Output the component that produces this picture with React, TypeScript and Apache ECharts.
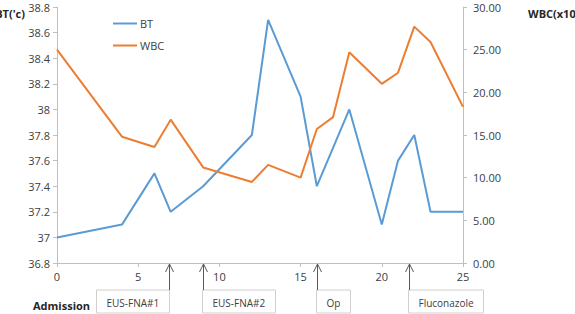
import React, { useEffect, useRef } from "react";
import * as echarts from "echarts";

// Body temperature (°C) by hospital day
const btDays = [0, 4, 6, 7, 9, 12, 13, 15, 16, 18, 20, 21, 22, 23, 25];
const btValues = [37.0, 37.1, 37.5, 37.2, 37.4, 37.8, 38.7, 38.1, 37.4, 38.0, 37.1, 37.6, 37.8, 37.2, 37.2];

// White blood cell count by hospital day
const wbcDays = [0, 4, 6, 7, 9, 12, 13, 15, 16, 17, 18, 20, 21, 22, 23, 25];
const wbcValues = [25.0, 14.8, 13.6, 16.8, 11.2, 9.5, 11.5, 10.0, 15.7, 17.1, 24.7, 21.0, 22.3, 27.7, 25.9, 18.3];

// Clinical events marked under the day axis
const eventDays = [6.9, 9, 16, 21.7];
const eventLabels = ["EUS-FNA#1", "EUS-FNA#2", "Op", "Fluconazole"];
const eventBoxOnLeft = [true, false, false, false];

const FONT = "'Open Sans', 'Noto Sans', sans-serif";
const BLUE = "#5B9BD5";
const ORANGE = "#ED7D31";
const AXIS = "#BFBFBF";
const TEXT = "#404040";

function measure(text: string, size: number): number {
  const c = document.createElement("canvas").getContext("2d");
  if (!c) return text.length * size * 0.55;
  c.font = `${size}px 'Open Sans'`;
  return c.measureText(text).width;
}

export default function App() {
  const ref = useRef<HTMLDivElement>(null);

  useEffect(() => {
    if (!ref.current) return;
    const chart = echarts.init(ref.current, undefined, { renderer: "svg" });

    chart.setOption({
      animation: false,
      textStyle: { fontFamily: FONT },
      grid: { left: 57, right: 112, top: 7, bottom: 51 },
      legend: {
        orient: "vertical",
        left: 108,
        top: 13,
        itemGap: 11,
        itemWidth: 24,
        itemHeight: 11,
        textStyle: { fontSize: 11, color: TEXT, fontFamily: FONT, padding: [0, 0, 0, -2] },
        data: [
          { name: "BT", icon: "path://M0,5 L24,5 L24,7 L0,7 Z" },
          { name: "WBC", icon: "path://M0,5 L24,5 L24,7 L0,7 Z" },
        ],
      },
      xAxis: {
        type: "value",
        min: 0,
        max: 25,
        interval: 5,
        splitLine: { show: false },
        axisLine: { lineStyle: { color: AXIS } },
        axisTick: { show: true, length: 4, lineStyle: { color: AXIS } },
        axisLabel: { fontSize: 11, color: TEXT, margin: 8 },
      },
      yAxis: [
        {
          type: "value",
          min: 36.8,
          max: 38.8,
          interval: 0.2,
          position: "left",
          splitLine: { show: false },
          axisLine: { show: true, lineStyle: { color: AXIS } },
          axisTick: { show: true, length: 4, lineStyle: { color: AXIS } },
          axisLabel: {
            fontSize: 11,
            color: TEXT,
            margin: 7,
            formatter: (v: number) => String(Math.round(v * 10) / 10),
          },
        },
        {
          type: "value",
          min: 0,
          max: 30,
          interval: 5,
          position: "right",
          splitLine: { show: false },
          axisLine: { show: true, lineStyle: { color: AXIS } },
          axisTick: { show: true, length: 4, lineStyle: { color: AXIS } },
          axisLabel: {
            fontSize: 11,
            color: TEXT,
            margin: 10,
            formatter: (v: number) => v.toFixed(2),
          },
        },
      ],
      series: [
        {
          name: "BT",
          type: "line",
          yAxisIndex: 0,
          data: btDays.map((d, i) => [d, btValues[i]]),
          showSymbol: false,
          color: BLUE,
          lineStyle: { width: 2, color: BLUE },
        },
        {
          name: "WBC",
          type: "line",
          yAxisIndex: 1,
          data: wbcDays.map((d, i) => [d, wbcValues[i]]),
          showSymbol: false,
          color: ORANGE,
          lineStyle: { width: 2, color: ORANGE },
        },
      ],
    });

    // Annotations placed from the axes' own scales
    const y0 = chart.convertToPixel({ yAxisIndex: 0 }, 36.8) as number;
    const graphics: any[] = [
      {
        type: "text",
        x: 25,
        y: 13,
        style: {
          text: "BT('c)",
          align: "right",
          verticalAlign: "middle",
          font: `bold 11px ${FONT}`,
          fill: "#262626",
        },
      },
      {
        type: "text",
        x: 528,
        y: 13,
        style: {
          text: "WBC(x10³",
          align: "left",
          verticalAlign: "middle",
          font: `bold 11px ${FONT}`,
          fill: "#262626",
        },
      },
      {
        type: "text",
        x: 33,
        y: y0 + 42,
        style: {
          text: "Admission",
          align: "left",
          verticalAlign: "middle",
          font: `bold 11px ${FONT}`,
          fill: "#262626",
        },
      },
    ];

    eventDays.forEach((day, i) => {
      const x = Math.round(chart.convertToPixel({ xAxisIndex: 0 }, day) as number) + 0.5;
      const boxTop = y0 + 27;
      const label = eventLabels[i];
      const w = Math.round(measure(label, 10) + 20);
      const h = 23;
      const bx = eventBoxOnLeft[i] ? x - w : x - 1;
      graphics.push(
        {
          type: "line",
          shape: { x1: x, y1: boxTop, x2: x, y2: y0 + 1 },
          style: { stroke: "#595959", lineWidth: 1 },
          z: 10,
        },
        {
          type: "polyline",
          shape: { points: [[x - 4, y0 + 9], [x, y0 + 1], [x + 4, y0 + 9]] },
          style: { stroke: "#595959", lineWidth: 1, fill: null },
          z: 10,
        },
        {
          type: "rect",
          shape: { x: bx, y: boxTop, width: w, height: h },
          style: { fill: "#fff", stroke: "#D0D0D0", lineWidth: 1 },
          z: 9,
        },
        {
          type: "text",
          x: bx + 10,
          y: boxTop + h / 2 + 1,
          style: {
            text: label,
            align: "left",
            verticalAlign: "middle",
            font: `10px ${FONT}`,
            fill: TEXT,
          },
          z: 11,
        }
      );
    });

    chart.setOption({ graphic: graphics });

    return () => chart.dispose();
  }, []);

  return (
    <div
      ref={ref}
      style={{ position: "fixed", left: 0, top: 0, width: 575, height: 314, background: "#fff" }}
    />
  );
}
